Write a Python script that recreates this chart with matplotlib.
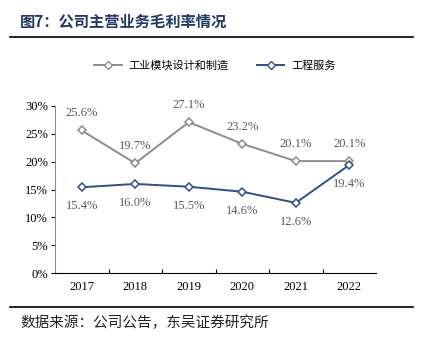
import matplotlib.pyplot as plt
from matplotlib.lines import Line2D

years = ["2017", "2018", "2019", "2020", "2021", "2022"]
industrial = [25.6, 19.7, 27.1, 23.2, 20.1, 20.1]
engineering = [15.4, 16.0, 15.5, 14.6, 12.6, 19.4]
series_names = ["工业模块设计和制造", "工程服务"]
y_ticks = [0, 5, 10, 15, 20, 25, 30]

cjk = ["Noto Sans CJK SC", "DejaVu Sans"]
serif = "Liberation Serif"
gray = "#8c8c8c"
blue = "#2f4f8a"

fig = plt.figure(figsize=(4.31, 3.43), dpi=100)
ax = fig.add_axes([55 / 431, 1 - 273 / 343, 321 / 431, 167 / 343])

x = list(range(len(years)))
ax.plot(x, industrial, color=gray, lw=1.4, marker="D", ms=4.5,
        mfc="white", mec=gray, mew=1.1, zorder=3)
ax.plot(x, engineering, color=blue, lw=1.4, marker="D", ms=4.5,
        mfc="white", mec=blue, mew=1.1, zorder=3)

for xi, v in zip(x, industrial):
    ax.annotate(f"{v:.1f}%", (xi, v), xytext=(0, 8), textcoords="offset points",
                ha="center", va="bottom", fontsize=9, color="#595959", family=serif)
for xi, v in zip(x, engineering):
    ax.annotate(f"{v:.1f}%", (xi, v), xytext=(0, -9.5), textcoords="offset points",
                ha="center", va="top", fontsize=9, color="#595959", family=serif)

ax.set_xlim(-0.5, len(years) - 0.5)
ax.set_ylim(0, 30)
ax.set_yticks(y_ticks)
ax.set_yticklabels([f"{t}%" for t in y_ticks], family=serif, fontsize=9)
ax.set_xticks([i + 0.5 for i in x[:-1]], minor=False)
ax.set_xticklabels([])
ax.set_xticks(x, minor=True)
ax.set_xticklabels(years, minor=True, family=serif, fontsize=9)
ax.tick_params(axis="x", which="major", length=3, direction="in", width=0.8)
ax.tick_params(axis="x", which="minor", length=0, pad=6)
ax.tick_params(axis="y", length=3, direction="out", width=0.8, pad=2)
for s in ["top", "right"]:
    ax.spines[s].set_visible(False)
ax.spines["left"].set_color(gray)
ax.spines["bottom"].set_color("black")

handles = [
    Line2D([], [], color=gray, lw=1.4, marker="D", ms=4, mfc="white", mec=gray),
    Line2D([], [], color=blue, lw=1.4, marker="D", ms=4, mfc="white", mec=blue),
]
fig.legend(handles, series_names, loc="center", bbox_to_anchor=(215 / 431, 1 - 66 / 343),
           ncol=2, frameon=False, prop={"family": cjk, "size": 8},
           handlelength=2.5, columnspacing=2.5, handletextpad=0.6)

fig.text(20 / 431, 1 - 22 / 343, "图7：公司主营业务毛利率情况", family=cjk,
         fontsize=11, fontweight="bold", color="#1f3864", va="center")
fig.add_artist(Line2D([10 / 431, 413 / 431], [1 - 37 / 343] * 2, color="black", lw=1.2))
fig.add_artist(Line2D([10 / 431, 413 / 431], [1 - 307 / 343] * 2, color="black", lw=1.2))
fig.text(20 / 431, 1 - 323 / 343, "数据来源：公司公告，东吴证券研究所", family=cjk,
         fontsize=10.5, color="#222222", va="center")

fig.savefig("out.png", dpi=100)
